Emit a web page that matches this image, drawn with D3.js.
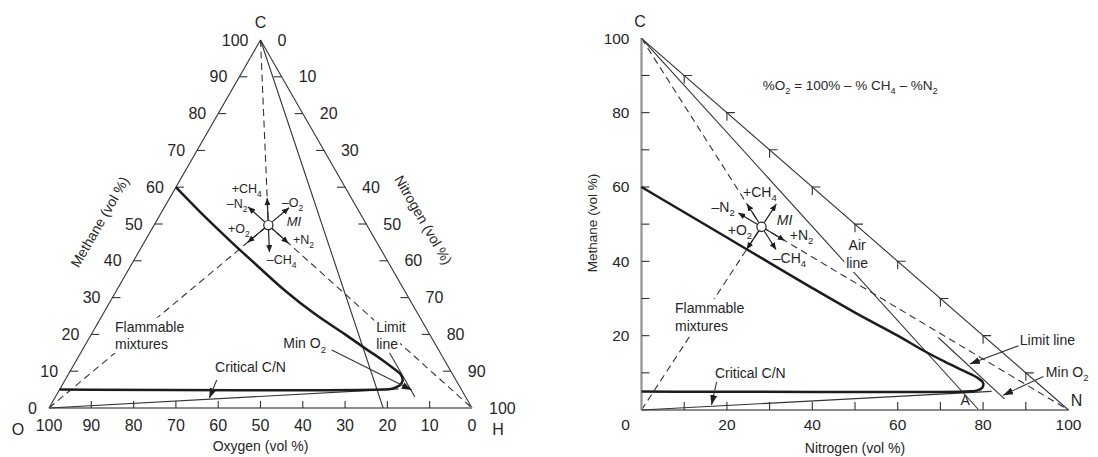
<!DOCTYPE html>
<html><head><meta charset="utf-8">
<script src="https://cdn.jsdelivr.net/npm/d3@7"></script>
<style>
body{margin:0;background:#fff}
svg{display:block}
text{font-family:"Liberation Sans",Arial,Helvetica,sans-serif;fill:#262626}
</style>
</head><body>
<svg id="c" width="1098" height="457"></svg>
<script>
// ---------------- DATA ----------------
// Left: ternary diagram, points as [nitrogen %, methane %] (oxygen = 100 - both)
const ternTicks = [10, 20, 30, 40, 50, 60, 70, 80, 90];
const ternLabels = [0, 10, 20, 30, 40, 50, 60, 70, 80, 90, 100];
const leftMI = [27, 49.7];
const leftLimitCurve = [[0,60],[10,52.6],[20,45.5],[30,38.6],[40,31.8],[50,25.6],[60,20],[67,16],[72,13.2],[76,10.8],[78.7,9],[79.9,7.4],[79.8,6.1],[78.5,5.25],[76,5],[0,5]];
const leftAirLine = [[0,100],[79,0]];
const leftLimitLine = [[73,15],[85,3]];
const leftCritical = [[0,0],[80,5.2]];

// Right: cartesian diagram, points as [nitrogen %, methane %]
const rightTicks = [10, 20, 30, 40, 50, 60, 70, 80, 90];
const rightXLabels = [0, 20, 40, 60, 80, 100];
const rightYLabels = [20, 40, 60, 80, 100];
const rightMI = [28.1, 49.3];
const rightLimitCurve = [[0,60],[10,53.2],[20,46.4],[30,39.6],[40,32.8],[50,26.2],[60,20],[66,16],[71,13],[75.5,10.5],[78.5,8.8],[80,7.3],[79.8,6],[78.5,5.2],[76,5],[0,5]];
const rightAirLine = [[0,100],[79,0]];
const rightDiagonal = [[0,100],[100,0]];
const rightLimitLine = [[69.5,19.5],[85,3]];
const rightCritical = [[0,0],[82,5]];

// ---------------- SETUP ----------------
const svg = d3.select('#c');
const defs = svg.append('defs');
function marker(id, w, h){
  defs.append('marker').attr('id', id).attr('markerUnits','userSpaceOnUse')
    .attr('markerWidth', w).attr('markerHeight', h).attr('refX', w).attr('refY', h/2)
    .attr('orient','auto')
    .append('path').attr('d', `M0,0 L${w},${h/2} L0,${h} Z`).attr('fill','#1e1e1e');
}
marker('ah', 10, 7);
marker('ahs', 7, 6);

const INK = '#333', THICK = '#1c1c1c';
const layers = {};
['dash','bg','solid','text'].forEach(k => layers[k] = svg.append('g'));

function rich(t, str, size){
  const parts = str.split(/(_\d)/).filter(s => s.length);
  let shifted = false;
  parts.forEach(p => {
    if (p[0] === '_') {
      t.append('tspan').attr('dy', size*0.32).attr('font-size', size*0.68).text(p.slice(1));
      shifted = true;
    } else {
      const s = t.append('tspan').text(p);
      if (shifted) { s.attr('dy', -size*0.32); shifted = false; }
    }
  });
}
function label(x, y, str, size, anchor, opts){
  opts = opts || {};
  const t = layers.text.append('text').attr('x', x).attr('y', y).attr('dy','0.35em')
    .attr('font-size', size).attr('text-anchor', anchor || 'start');
  if (opts.italic) t.attr('font-style','italic');
  if (opts.rotate) t.attr('transform', `rotate(${opts.rotate},${x},${y})`);
  rich(t, str, size);
  if (opts.bg) {
    const b = t.node().getBBox();
    layers.bg.append('rect').attr('x', b.x-2).attr('y', b.y-1).attr('width', b.width+4).attr('height', b.height+2).attr('fill','#fff');
  }
  return t;
}
function seg(layer, p0, p1, o){
  o = o || {};
  const l = layer.append('line').attr('x1',p0[0]).attr('y1',p0[1]).attr('x2',p1[0]).attr('y2',p1[1])
    .attr('stroke', o.color || INK).attr('stroke-width', o.w || 1.1);
  if (o.dash) l.attr('stroke-dasharray', o.dash);
  if (o.marker) l.attr('marker-end', `url(#${o.marker})`);
  return l;
}
function miGlyph(c, targets, r0, r1){
  targets.forEach(tg => {
    let dx = tg.pt[0]-c[0], dy = tg.pt[1]-c[1];
    const L = Math.hypot(dx, dy); dx = dx/L*tg.sign; dy = dy/L*tg.sign;
    seg(layers.solid, [c[0]+dx*r0, c[1]+dy*r0], [c[0]+dx*r1, c[1]+dy*r1], {w:1.2, color:'#1e1e1e', marker:'ahs'});
  });
  layers.solid.append('circle').attr('cx', c[0]).attr('cy', c[1]).attr('r', 4.6)
    .attr('fill','#fff').attr('stroke','#1e1e1e').attr('stroke-width',1.2);
}
const DASH = '7,4.5';

// ================= LEFT: TERNARY =================
const tx = d3.scaleLinear().domain([0,100]).range([49,472]);
const ty = d3.scaleLinear().domain([0,100]).range([408,40]);
const pL = d => [tx(d[0] + d[1]/2), ty(d[1])];
const lineL = d3.line().x(d => pL(d)[0]).y(d => pL(d)[1]);

const vO = pL([0,0]), vH = pL([100,0]), vC = pL([0,100]);
// edges
seg(layers.solid, vO, vC);
seg(layers.solid, vC, vH);
seg(layers.solid, vO, vH, {color:'#8c8c8c', w:2});
// ticks
ternTicks.forEach(v => {
  const b = pL([100-v, 0]); seg(layers.solid, b, [b[0], b[1]-7]);
  const l = pL([0, v]); seg(layers.solid, l, [l[0]+8, l[1]]);
  const r = pL([v, 100-v]); seg(layers.solid, r, [r[0]-8, r[1]]);
});
ternLabels.forEach(v => {
  const b = pL([100-v, 0]); label(b[0], 425, String(v), 16, 'middle');
  const l = pL([0, v]); label(l[0]-12, l[1], String(v), 16, 'end');
  const r = pL([v, 100-v]); label(r[0]+17, r[1], String(v), 16, 'start');
});
label(vC[0], vC[1]-18, 'C', 16, 'middle');
label(vO[0]-31, vO[1]+21, 'O', 16, 'middle');
label(vH[0]+26, vH[1]+21, 'H', 16, 'middle');
label(tx(50), 446, 'Oxygen (vol %)', 14, 'middle');
{ const e = pL([0,50]); label(e[0]-55, e[1]-2, 'Methane (vol %)', 14, 'middle', {rotate:-60}); }
{ const e = pL([50,50]); label(e[0]+57, e[1]-4, 'Nitrogen (vol %)', 14, 'middle', {rotate:60}); }

// lines
const miL = pL(leftMI);
seg(layers.dash, vC, miL, {dash:DASH});
seg(layers.dash, vO, miL, {dash:DASH});
seg(layers.dash, miL, vH, {dash:DASH});
layers.solid.append('path').attr('d', lineL(leftAirLine)).attr('fill','none').attr('stroke',INK).attr('stroke-width',1.1);
layers.solid.append('path').attr('d', lineL(leftLimitLine)).attr('fill','none').attr('stroke',INK).attr('stroke-width',1.1);
layers.solid.append('path').attr('d', lineL(leftCritical)).attr('fill','none').attr('stroke',INK).attr('stroke-width',1.1);
layers.solid.append('path').attr('d', lineL.curve(d3.curveCatmullRom.alpha(0.5))(leftLimitCurve))
  .attr('fill','none').attr('stroke',THICK).attr('stroke-width',2.5);
lineL.curve(d3.curveLinear);

miGlyph(miL, [{pt:vC,sign:1},{pt:vC,sign:-1},{pt:vO,sign:1},{pt:vO,sign:-1},{pt:vH,sign:1},{pt:vH,sign:-1}], 5, 27);
[['+CH_4',-36.6,-36.7],['\u2013N_2',-41.6,-21.7],['\u2013O_2',13.4,-22.7],['+O_2',-40.3,3.3],['+N_2',24.7,15],['\u2013CH_4',-1.6,35]]
  .forEach(a => label(miL[0]+a[1], miL[1]+a[2], a[0], 12.5, 'start'));
label(miL[0]+18.4, miL[1]-3.3, 'MI', 13, 'start', {italic:true});

// annotations
{ const p = pL([4.55, 22.1]); label(p[0], p[1], 'Flammable', 14, 'start', {bg:true}); label(p[0], p[1]+17.5, 'mixtures', 14, 'start', {bg:true}); }
{ const p = pL([33.7, 11.14]); label(p[0], p[1], 'Critical C/N', 14, 'start');
  seg(layers.solid, pL([35.85,7.6]), pL([36.58,2.64]), {marker:'ah'}); }
{ const p = pL([46.6, 17.6]); label(p[0], p[1], 'Min O_2', 14, 'start');
  seg(layers.solid, pL([58.95,15.76]), pL([83.3,4.89]), {marker:'ah'}); }
{ const p = pL([66.4, 21.9]); label(p[0], p[1], 'Limit', 14, 'start', {bg:true}); label(p[0], p[1]+17, 'line', 14, 'start', {bg:true}); }

// ================= RIGHT: CARTESIAN =================
const rx = d3.scaleLinear().domain([0,100]).range([641.5,1068.5]);
const ry = d3.scaleLinear().domain([0,100]).range([410,38.3]);
const pR = d => [rx(d[0]), ry(d[1])];
const lineR = d3.line().x(d => rx(d[0])).y(d => ry(d[1]));

seg(layers.solid, pR([0,0]), pR([0,100]), {color:'#9a9a9a', w:2.4});
seg(layers.solid, pR([0,0]), pR([100,0]), {color:'#8c8c8c', w:1.8});
rightTicks.forEach(v => {
  const y = pR([0, v]); seg(layers.solid, y, [y[0]+8, y[1]]);
  const x = pR([v, 0]); seg(layers.solid, x, [x[0], x[1]-8]);
  const d = pR([v, 100-v]);
  layers.solid.append('path').attr('d', `M${d[0]-1},${d[1]}H${d[0]+8}M${d[0]},${d[1]}V${d[1]+8}`)
    .attr('fill','none').attr('stroke',INK).attr('stroke-width',1.1);
});
rightXLabels.forEach(v => label(rx(v) - (v === 0 ? 16 : 0), 425, String(v), 15.5, 'middle'));
rightYLabels.forEach(v => label(rx(0) - 12, ry(v), String(v), 15.5, 'end'));
label(rx(0)-1.5, ry(100)-17, 'C', 16, 'middle');
label(rx(100)+8, ry(0)-10, 'N', 16, 'middle');
label(rx(50), 448, 'Nitrogen (vol %)', 14, 'middle');
label(592, 223, 'Methane (vol %)', 13.5, 'middle', {rotate:-90});
{ const p = pR([28.4, 87.4]); label(p[0], p[1], '%O_2 = 100% \u2013 % CH_4 \u2013 %N_2', 13.5, 'start'); }

const miR = pR(rightMI), cR = pR([0,100]), oR = pR([0,0]), nR = pR([100,0]);
seg(layers.dash, cR, miR, {dash:DASH});
seg(layers.dash, oR, miR, {dash:DASH});
seg(layers.dash, miR, nR, {dash:DASH});
layers.dash.append('path').attr('d', lineR(rightAirLine)).attr('fill','none').attr('stroke',INK).attr('stroke-width',1.1);
layers.solid.append('path').attr('d', lineR(rightDiagonal)).attr('fill','none').attr('stroke',INK).attr('stroke-width',1.1);
layers.solid.append('path').attr('d', lineR(rightLimitLine)).attr('fill','none').attr('stroke',INK).attr('stroke-width',1.1);
layers.solid.append('path').attr('d', lineR(rightCritical)).attr('fill','none').attr('stroke',INK).attr('stroke-width',1.1);
layers.solid.append('path').attr('d', lineR.curve(d3.curveCatmullRom.alpha(0.5))(rightLimitCurve))
  .attr('fill','none').attr('stroke',THICK).attr('stroke-width',2.5);

miGlyph(miR, [{pt:cR,sign:1},{pt:cR,sign:-1},{pt:oR,sign:1},{pt:oR,sign:-1},{pt:nR,sign:1},{pt:nR,sign:-1}], 5, 27);
[['+CH_4',-18.4,-35],['\u2013N_2',-50,-20],['+O_2',-33.7,3.3],['+N_2',28.3,8.3],['\u2013CH_4',11.3,31.3]]
  .forEach(a => label(miR[0]+a[1], miR[1]+a[2], a[0], 14, 'start'));
label(miR[0]+15.3, miR[1]-6.7, 'MI', 14, 'start', {italic:true});

{ const p = pR([7.85, 27.4]); label(p[0], p[1], 'Flammable', 14, 'start', {bg:true}); label(p[0], p[1]+17.7, 'mixtures', 14, 'start', {bg:true}); }
{ const p = pR([17.2, 9.9]); label(p[0], p[1], 'Critical C/N', 14, 'start');
  seg(layers.solid, pR([17.6,7.6]), pR([16.4,1.35]), {marker:'ah'}); }
{ const p = pR([50.5, 44.4]); label(p[0], p[1], 'Air', 14, 'middle', {bg:true}); label(p[0], p[1]+18, 'line', 14, 'middle', {bg:true}); }
{ const p = pR([75.8, 2.7]); label(p[0], p[1], 'A', 14, 'middle'); }
{ const p = pR([88.6, 18.8]); label(p[0], p[1], 'Limit line', 14, 'start');
  seg(layers.solid, pR([88.3,17.3]), pR([76.9,12.4]), {marker:'ah'}); }
{ const p = pR([94.7, 10.2]); label(p[0], p[1], 'Min O_2', 14, 'start');
  seg(layers.solid, pR([94.1,9.0]), pR([84.7,4.0]), {marker:'ah'}); }
</script>
</body></html>
